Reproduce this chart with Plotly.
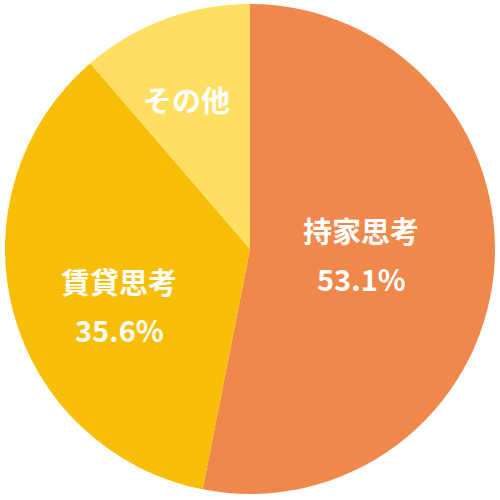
import plotly.graph_objects as go

# 住宅意向の割合
labels = ["持家思考", "賃貸思考", "その他"]
values = [53.1, 35.6, 11.3]
colors = ["#F0874B", "#F8BE07", "#FEDF62"]

# ラベル位置 (paper座標): 項目名 / 割合
name_x = [0.722, 0.238, 0.373]
name_y = [0.540, 0.438, 0.802]
pct_y = [0.444, 0.342, None]

fig = go.Figure(go.Pie(
    labels=labels,
    values=values,
    sort=False,
    direction="clockwise",
    rotation=0,
    marker=dict(colors=colors, line=dict(width=0)),
    textinfo="none",
    hoverinfo="label+percent",
    showlegend=False,
    domain=dict(x=[0.01, 0.99], y=[0.012, 0.992]),
))

font = dict(family="Noto Sans CJK JP", size=29, color="white", weight="bold")
for i, lab in enumerate(labels):
    fig.add_annotation(x=name_x[i], y=name_y[i], xref="paper", yref="paper",
                       text=lab, showarrow=False, font=font,
                       xanchor="center", yanchor="middle")
    if pct_y[i] is not None:
        fig.add_annotation(x=name_x[i], y=pct_y[i], xref="paper", yref="paper",
                           text=f"{values[i]:.1f}%", showarrow=False, font=font,
                           xanchor="center", yanchor="middle")

fig.update_layout(width=500, height=500, margin=dict(l=0, r=0, t=0, b=0),
                  paper_bgcolor="white", plot_bgcolor="white")

fig.write_html("out.html", config={"displayModeBar": False},
               post_script="document.body.style.margin='0';")
